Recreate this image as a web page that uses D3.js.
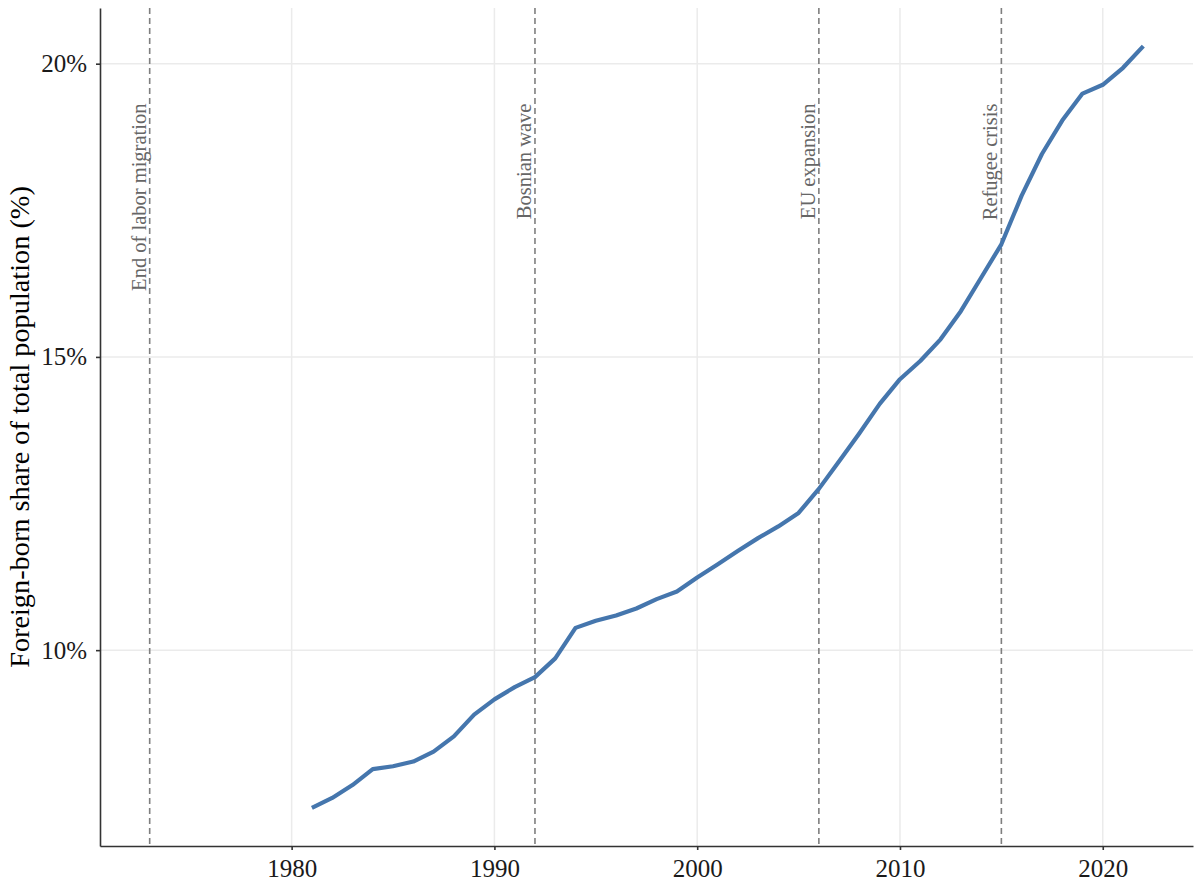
<!DOCTYPE html>
<html>
<head>
<meta charset="utf-8">
<script src="https://cdn.jsdelivr.net/npm/d3@7"></script>
<style>
  body { margin: 0; background: #fff; }
  text { font-family: "Liberation Serif", "Times New Roman", serif; }
</style>
</head>
<body>
<div id="container"></div>
<script>
/* ---------- DATA ---------- */
const years = [1981, 1982, 1983, 1984, 1985, 1986, 1987, 1988, 1989, 1990,
  1991, 1992, 1993, 1994, 1995, 1996, 1997, 1998, 1999, 2000,
  2001, 2002, 2003, 2004, 2005, 2006, 2007, 2008, 2009, 2010,
  2011, 2012, 2013, 2014, 2015, 2016, 2017, 2018, 2019, 2020,
  2021, 2022];
const shares = [7.31, 7.48, 7.70, 7.97, 8.02, 8.10, 8.27, 8.53, 8.90, 9.16,
  9.37, 9.54, 9.86, 10.38, 10.50, 10.59, 10.71, 10.87, 11.00, 11.24,
  11.46, 11.69, 11.91, 12.11, 12.34, 12.75, 13.22, 13.70, 14.20, 14.62,
  14.93, 15.30, 15.78, 16.35, 16.92, 17.75, 18.46, 19.03, 19.49, 19.64,
  19.93, 20.30];
const eventYears = [1973, 1992, 2006, 2015];
const eventLabels = ["End of labor migration", "Bosnian wave", "EU expansion", "Refugee crisis"];
const xTicks = [1980, 1990, 2000, 2010, 2020];
const yTicks = [10, 15, 20];
const yTitle = "Foreign-born share of total population (%)";

/* ---------- CONSTANTS ---------- */
const width = 1200,
  height = 884,
  margin = { top: 8, bottom: 38, left: 100, right: 7 };

const data = years.map((y, i) => ({ year: y, share: shares[i] }));

// ggplot style 5% expansion on both axes
const xMin = d3.min([...years, ...eventYears]), xMax = d3.max(years);
const xPad = (xMax - xMin) * 0.05;
const yMin = d3.min(shares), yMax = d3.max(shares);
const yPad = (yMax - yMin) * 0.05;

const xScale = d3.scaleLinear()
  .domain([xMin - xPad, xMax + xPad])
  .range([margin.left, width - margin.right]);

const yScale = d3.scaleLinear()
  .domain([yMin - yPad, yMax + yPad])
  .range([height - margin.bottom, margin.top]);

const svg = d3.select("#container")
  .append("svg")
  .attr("width", width)
  .attr("height", height);

// + GRID
svg.append("g")
  .selectAll("line")
  .data(xTicks)
  .join("line")
  .attr("x1", d => xScale(d)).attr("x2", d => xScale(d))
  .attr("y1", margin.top).attr("y2", height - margin.bottom)
  .attr("stroke", "#ebebeb").attr("stroke-width", 1.5);

svg.append("g")
  .selectAll("line")
  .data(yTicks)
  .join("line")
  .attr("x1", margin.left).attr("x2", width - margin.right)
  .attr("y1", d => yScale(d)).attr("y2", d => yScale(d))
  .attr("stroke", "#ebebeb").attr("stroke-width", 1.5);

// + EVENT LINES
svg.append("g")
  .selectAll("line")
  .data(eventYears)
  .join("line")
  .attr("x1", d => xScale(d)).attr("x2", d => xScale(d))
  .attr("y1", margin.top).attr("y2", height - margin.bottom)
  .attr("stroke", "#7f7f7f")
  .attr("stroke-width", 1.6)
  .attr("stroke-dasharray", "6,4");

svg.append("g")
  .selectAll("text")
  .data(eventYears)
  .join("text")
  .attr("transform", d => `translate(${xScale(d) - 4},${yScale(19.32)}) rotate(-90)`)
  .attr("text-anchor", "end")
  .attr("fill", "#666")
  .style("font-size", "20.5px")
  .text((d, i) => eventLabels[i]);

// + LINE
const line = d3.line()
  .x(d => xScale(d.year))
  .y(d => yScale(d.share));

svg.append("path")
  .datum(data)
  .attr("fill", "none")
  .attr("stroke", "#4576ad")
  .attr("stroke-width", 4.2)
  .attr("stroke-linejoin", "round")
  .attr("d", line);

// + AXES
const xAxis = d3.axisBottom(xScale)
  .tickValues(xTicks)
  .tickFormat(d3.format("d"))
  .tickSize(4)
  .tickSizeOuter(0)
  .tickPadding(9);

const yAxis = d3.axisLeft(yScale)
  .tickValues(yTicks)
  .tickFormat(d => d + "%")
  .tickSize(4)
  .tickSizeOuter(0)
  .tickPadding(9);

const gx = svg.append("g")
  .attr("transform", `translate(0,${height - margin.bottom})`)
  .call(xAxis);

const gy = svg.append("g")
  .attr("transform", `translate(${margin.left},0)`)
  .call(yAxis);

[gx, gy].forEach(g => {
  g.select(".domain").attr("stroke", "#333").attr("stroke-width", 1.6);
  g.selectAll(".tick line").attr("stroke", "#333").attr("stroke-width", 1.6);
  g.selectAll(".tick text")
    .attr("fill", "#1a1a1a")
    .style("font-family", "'Liberation Serif', 'Times New Roman', serif")
    .style("font-size", "25px");
});

// + AXIS TITLE
svg.append("text")
  .attr("transform", `translate(29,${(margin.top + height - margin.bottom) / 2}) rotate(-90)`)
  .attr("text-anchor", "middle")
  .attr("fill", "#000")
  .style("font-size", "28.3px")
  .text(yTitle);
</script>
</body>
</html>
